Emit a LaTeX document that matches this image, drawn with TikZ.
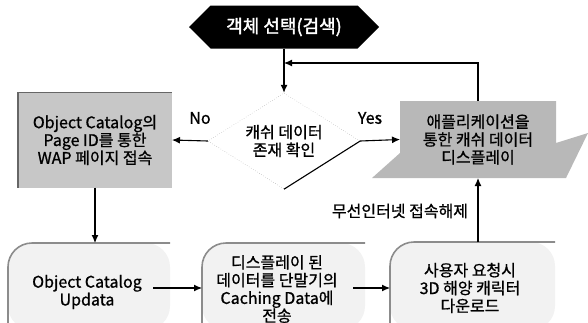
\documentclass[tikz,border=0pt]{standalone}
\usepackage{fontspec}
\setmainfont{Noto Sans CJK KR}[FakeBold=1]
\newfontfamily\bodyfont{Noto Sans CJK KR}[FakeBold=0.9]
\newfontfamily\hexfont{Noto Sans CJK KR}[FakeBold=2]
\usetikzlibrary{arrows.meta,shapes.geometric,shapes.symbols}
\begin{document}
\begin{tikzpicture}[x=1pt,y=-1pt,
  line/.style={line width=1.1pt},
  conn/.style={line width=1.1pt,-{Latex[length=8pt,width=7pt]}},
  txt/.style={align=center,font=\bodyfont\fontsize{16}{17.8}\selectfont,inner sep=0pt},
  area/.style={inner sep=0pt,outer sep=0pt},
  lightbox/.style={fill=black!5},
  lightedge/.style={draw=black!45,line width=1.6pt,rounded corners=24pt}]
\useasboundingbox (0,0) rectangle (588,322);
% top terminal
\node[signal,signal to=west and east,signal pointer angle=90,fill=black,
  minimum width=190pt,minimum height=43pt,inner sep=0pt,text=white,
  font=\hexfont\fontsize{18}{20}\selectfont] (hex) at (284,27) {객체 선택(검색)};
% decision
\node[diamond,draw=black!45,dotted,aspect=1.58,minimum width=152pt,minimum height=96pt,
  inner sep=0pt,txt] (dec) at (284,141) {캐쉬 데이터\\존재 확인};
% left box
\node[area,fill=black!22,minimum width=154pt,minimum height=95pt,txt] (lbox) at (95,140)
  {Object Catalog의\\Page ID를 통한\\WAP 페이지 접속};
\draw[black!60,line width=1.6pt] (lbox.south west) -- (lbox.north west) -- (lbox.north east);
% right box
\fill[black!28] (400,101) -- (556,101) -- (556,143) -- (588,133) -- (566,178)
  -- (372,178) -- (400,153) -- cycle;
\node[area,minimum width=156pt,minimum height=77pt,txt] (rbox) at (478,139.5)
  {애플리케이션을\\통한 캐쉬 데이터\\디스플레이};
% bottom boxes
\fill[lightbox,rounded corners=24pt] (8,330) -- (8,243) -- (170,243) -- (170,330) -- cycle;
\draw[lightedge] (8,330) -- (8,243) -- (170,243);
\fill[lightbox,rounded corners=24pt] (202,330) -- (202,243) -- (365,243) -- (365,330) -- cycle;
\draw[lightedge] (202,330) -- (202,243) -- (365,243);
\fill[lightbox,rounded corners=24pt] (390,330) -- (390,242) -- (555,242) -- (555,330) -- cycle;
\draw[lightedge] (390,330) -- (390,242) -- (555,242);
\node[area,minimum width=162pt,minimum height=90pt] (b1) at (89,288) {};
\node[area,minimum width=163pt,minimum height=90pt] (b2) at (283.5,288) {};
\node[area,minimum width=165pt,minimum height=92pt] (b3) at (472.5,288) {};
\node[txt] (t1) at (87,292) {Object Catalog\\Updata};
\node[txt] (t2) at (277,289) {디스플레이 된\\데이터를 단말기의\\Caching Data에\\전송};
\node[txt] (t3) at (470,288) {사용자 요청시\\3D 해양 캐릭터\\다운로드};
% labels
\node[txt] (no) at (200,118) {No};
\node[txt] (yes) at (370,118) {Yes};
\node[txt] (wl) at (400,211) {무선인터넷 접속해제};
% connectors
\coordinate (j) at (284,63);
\draw[conn] (hex.south) -- (dec.north);
\draw[conn] (rbox.north) |- (j);
\draw[conn] (dec.west) -- (lbox.east);
\draw[line] (dec.south) -- (dec.east);
\draw[conn] (dec.east) -- (rbox.west);
\draw[conn] (lbox.south) -- (lbox.south |- b1.north);
\draw[conn] ([xshift=-17pt]b1.east) -- (b2.west);
\draw[conn] ([xshift=-12pt]b2.east) -- (b3.west);
\draw[conn] (rbox.south |- b3.north) -- (rbox.south);
\end{tikzpicture}
\end{document}
